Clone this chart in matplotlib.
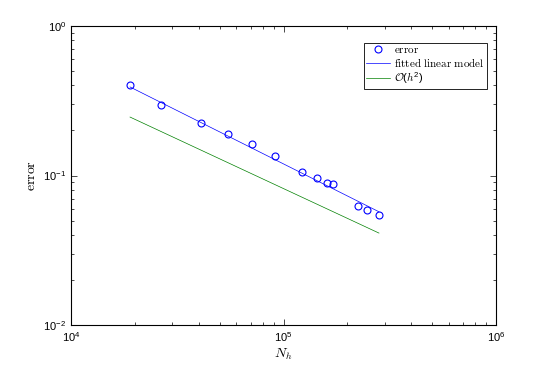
import numpy as np
import matplotlib
matplotlib.use("Agg")
import matplotlib.pyplot as plt

plt.rcParams['font.family'] = ['Liberation Sans', 'DejaVu Sans']
plt.rcParams['mathtext.fontset'] = 'cm'
plt.rcParams['mathtext.default'] = 'regular'

# data
n_h = [18960, 26420, 40740, 54960, 70800, 91400, 122600, 144200,
       159600, 170400, 224900, 246400, 281300]
err = [0.405, 0.295, 0.2235, 0.1887, 0.1617, 0.135, 0.106, 0.0958,
       0.0895, 0.0873, 0.0628, 0.0585, 0.0542]

fit_x = [18960, 281300]
fit_y = [0.391, 0.0572]

ref_x = [18960, 281300]
ref_y = [0.246, 0.0412]

fig = plt.figure(figsize=(5.48, 3.67), dpi=100)
ax = fig.add_axes([71/548, 1-325/367, 425/548, 299/367])

ax.loglog(n_h, err, 'o', mfc='none', mec=(0, 0, 1), ms=5, mew=0.8,
          label=r'$\mathrm{error}$')
ax.loglog(fit_x, fit_y, '-', color=(0, 0, 1), lw=0.5,
          label=r'$\mathrm{fitted\ linear\ model}$')
ax.loglog(ref_x, ref_y, '-', color=(0, 0.5, 0), lw=0.5,
          label=r'$\mathcal{O}(\mathit{h}^{2})$')

ax.set_xlim(1e4, 1e6)
ax.set_ylim(1e-2, 1e0)
ax.tick_params(which='both', direction='in', top=True, right=True,
               labelsize=8, width=0.5)
ax.tick_params(which='major', length=4)
ax.tick_params(which='minor', length=2)
for s in ax.spines.values():
    s.set_linewidth(0.8)

ax.set_xlabel(r'$\mathit{N}_{\mathit{h}}$', fontsize=10, labelpad=2)
ax.set_ylabel(r'$\mathrm{error}$', fontsize=10, labelpad=4)

leg = ax.legend(loc='upper right', bbox_to_anchor=(0.978, 0.943),
                fontsize=8, fancybox=False, framealpha=1,
                edgecolor='black', borderpad=0.2, labelspacing=0.1,
                handlelength=2.2, handletextpad=0.3, borderaxespad=0)
leg.get_frame().set_linewidth(0.6)

fig.savefig('out.png', dpi=100)
